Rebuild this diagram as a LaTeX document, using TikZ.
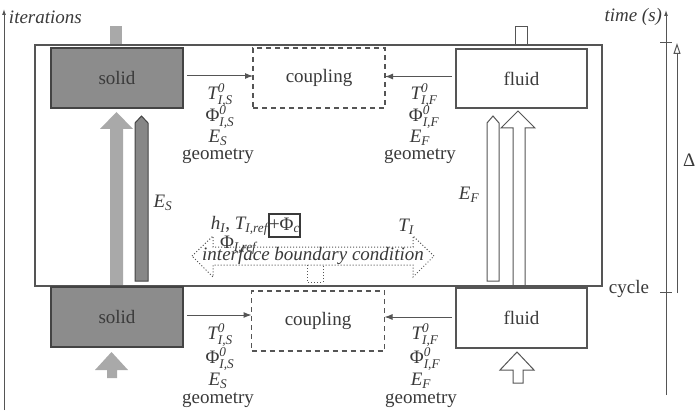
\documentclass[tikz,border=0pt]{standalone}
\usepackage{amsmath}
\usepackage{fontspec}
\setmainfont{Liberation Serif}
\usetikzlibrary{arrows.meta}
\definecolor{ln}{HTML}{555555}
\definecolor{tx}{HTML}{3A3A3A}
\definecolor{solidfill}{HTML}{8C8C8C}
\definecolor{lightgray}{HTML}{A9A9A9}
\definecolor{darkarrow}{HTML}{878787}
\newcommand{\itx}[1]{\textit{#1}}
\tikzset{
  every node/.style={font=\fontsize{19}{22}\selectfont, text=tx, inner sep=0pt, outer sep=0pt},
  blk/.style={draw=ln, line width=1.4pt, minimum width=132pt, minimum height=60pt},
  solidbox/.style={blk, fill=solidfill, draw=ln!80!black},
  fluidbox/.style={blk, fill=white},
  couplebox/.style={draw=ln, line width=1.2pt, dash pattern=on 5pt off 4pt, minimum width=132pt, minimum height=60pt},
  flow/.style={draw=ln, line width=1pt, -{Latex[length=8pt,width=6pt]}},
  axis/.style={draw=ln, line width=1pt, -{Latex[length=6pt,width=4pt]}},
  lab/.style={anchor=center},
}
\begin{document}
\begin{tikzpicture}[x=1pt,y=-1pt]
\useasboundingbox (0,0) rectangle (700,414);
\fill[white] (0,0) rectangle (700,414);

% axes
\coordinate (ax0) at (4,410);
\coordinate (ax1) at (4,9);
\draw[axis] (ax0) -- (ax1);
\node[anchor=west] (iter) at (9,17) {\itshape iterations};
\coordinate (tb0) at (666,395);
\coordinate (tb1) at (666,10);
\draw[axis] (tb0) -- (tb1);
\coordinate (tk1) at (666,43);
\coordinate (tk2) at (666,292);
\draw[ln, line width=1pt] ([xshift=-6pt]tk1) -- ([xshift=6pt]tk1);
\draw[ln, line width=1pt] ([xshift=-6pt]tk2) -- ([xshift=6pt]tk2);
\node[anchor=east] (time) at (662,17) {\itshape time (s)};
\node (cycle) at (629,289) {cycle};
\coordinate (d0) at (677,293);
\coordinate (d1) at (677,43);
\draw[draw=ln, line width=1pt, -{Triangle[open,length=11pt,width=7pt]}] (d0) -- (d1);
\node[anchor=west] (delta) at (683,160) {Δ};

% big gray arrow (left)
\fill[lightgray] (110,287) -- (110,129) -- (100,129) -- (116.5,112) -- (133,129) -- (123,129) -- (123,287) -- cycle;
\fill[lightgray] (110,26) rectangle (122,45);
% dark narrow arrow
\filldraw[fill=darkarrow, draw=ln!80!black, line width=1pt] (135,281) -- (135,123) -- (141.5,116) -- (148,123) -- (148,281) -- cycle;
% white narrow arrow
\filldraw[fill=white, draw=ln, line width=1pt] (487,281) -- (487,123) -- (493,116) -- (499,123) -- (499,281) -- cycle;
% big white arrow
\filldraw[fill=white, draw=ln, line width=1pt] (513,288) -- (513,128) -- (501,128) -- (518,111) -- (535,128) -- (525,128) -- (525,288);
\draw[ln, line width=1pt] (515,27) rectangle (527,45);

% frame
\draw[ln, line width=1.3pt] (35,45) rectangle (602,286);

% boxes
\node[solidbox] (solidT) at (117,78) {solid};
\node[couplebox] (coupT) at (319,78) {coupling};
\node[fluidbox, minimum width=131pt, minimum height=59pt] (fluidT) at (521.5,78.5) {fluid};
\node[solidbox] (solidB) at (117,317) {solid};
\node[couplebox, minimum width=133pt] (coupB) at (318,321) {coupling};
\node[fluidbox, minimum width=131pt] (fluidB) at (521.5,318) {fluid};

% flows
\draw[flow] ([xshift=4pt,yshift=2pt]solidT.east) -- ([yshift=2pt]solidT.east -| coupT.west);
\draw[flow] ([xshift=-4pt,yshift=2pt]fluidT.west) -- ([yshift=2pt]fluidT.west -| coupT.east);
\draw[flow] ([xshift=4pt,yshift=2pt]solidB.east) -- ([yshift=2pt]solidB.east -| coupB.west);
\draw[flow] ([xshift=-4pt,yshift=1pt]fluidB.west) -- ([yshift=1pt]fluidB.west -| coupB.east);

% top labels
\node (tlS1) at (220,95) {$\itx{T}^{\itx{0}}_{\itx{I,S}}$};
\node (tlS2) at (220,117) {$\text{Φ}^{\itx{0}}_{\itx{I,S}}$};
\node (tlS3) at (218,138) {$\itx{E}_{\itx{S}}$};
\node (tlS4) at (218,156) {geometry};
\node (tlF1) at (424,95) {$\itx{T}^{\itx{0}}_{\itx{I,F}}$};
\node (tlF2) at (424,117) {$\text{Φ}^{\itx{0}}_{\itx{I,F}}$};
\node (tlF3) at (420,138) {$\itx{E}_{\itx{F}}$};
\node (tlF4) at (420,156) {geometry};
% bottom labels
\node (blS1) at (220,335) {$\itx{T}^{\itx{0}}_{\itx{I,S}}$};
\node (blS2) at (220,359) {$\text{Φ}^{\itx{0}}_{\itx{I,S}}$};
\node (blS3) at (218,381) {$\itx{E}_{\itx{S}}$};
\node (blS4) at (218,400) {geometry};
\node (blF1) at (425,335) {$\itx{T}^{\itx{0}}_{\itx{I,F}}$};
\node (blF2) at (425,359) {$\text{Φ}^{\itx{0}}_{\itx{I,F}}$};
\node (blF3) at (421,381) {$\itx{E}_{\itx{F}}$};
\node (blF4) at (421,400) {geometry};

\node (ES) at (163,203) {$\itx{E}_{\itx{S}}$};
\node (EF) at (469,195) {$\itx{E}_{\itx{F}}$};

% interface boundary condition
\draw[ln, line width=1pt, dotted] (192,256) -- (213,236) -- (213,247) -- (413,247) -- (413,236) -- (434,256) -- (413,277) -- (413,265) -- (213,265) -- (213,277) -- cycle;
\draw[ln, line width=1pt, dotted] (307,265) -- (307,282) -- (323,282) -- (323,265);
\node (ibc) at (313,256) {\itshape interface boundary condition};
\node[anchor=east] (hT) at (268,226) {$\itx{h}_{\itx{I}}$, $\itx{T}_{\itx{I,ref}}$};
\node[draw=tx, line width=1.2pt, minimum width=31pt, minimum height=23pt] (phic) at (284.5,225.5) {+$\text{Φ}_{\itx{c}}$};
\node[anchor=west] (phiref) at (220,245) {$\text{Φ}_{\itx{I,ref}}$};
\node (TI) at (406,227) {$\itx{T}_{\itx{I}}$};

% bottom arrows
\fill[lightgray] (107,378) -- (107,370) -- (95,370) -- (111.5,352) -- (128,370) -- (117,370) -- (117,378) -- cycle;
\filldraw[fill=white, draw=ln, line width=1pt] (513,383) -- (513,370) -- (500,370) -- (517,352) -- (534,370) -- (523,370) -- (523,383) -- cycle;
\end{tikzpicture}
\end{document}
